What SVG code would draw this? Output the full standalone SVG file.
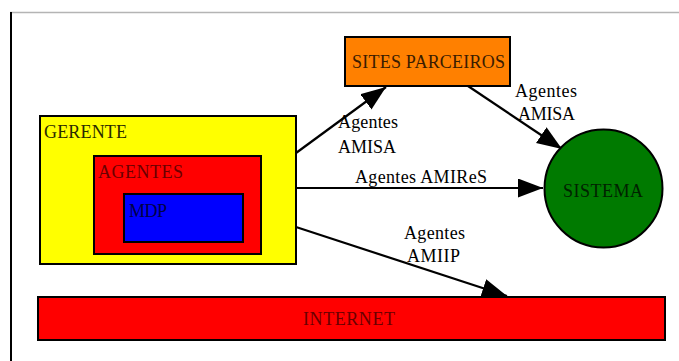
<svg xmlns="http://www.w3.org/2000/svg" width="679" height="361" viewBox="0 0 679 361">
<defs>
<marker id="arr" markerUnits="userSpaceOnUse" markerWidth="26" markerHeight="20" refX="25" refY="9.5" orient="auto" viewBox="0 0 26 20">
<path d="M0,0 L25,9.5 L0,19 z" fill="#000"/>
</marker>
<style>
text{font-family:"Liberation Serif","Times New Roman",serif;font-size:18px;fill:#000}
.box{stroke:#000;stroke-width:2}
.con{stroke:#000;stroke-width:2.2;fill:none;marker-end:url(#arr)}
</style>
</defs>
<rect width="679" height="361" fill="#fff"/>
<line x1="10" y1="12.5" x2="679" y2="12.5" stroke="#b4b4b4" stroke-width="1.5"/>
<line x1="11" y1="12" x2="11" y2="361" stroke="#000" stroke-width="2"/>

<g id="connectors">
<line class="con" x1="296" y1="153" x2="386" y2="87"/>
<line class="con" x1="296" y1="188" x2="543" y2="188"/>
<line class="con" x1="296" y1="227" x2="507" y2="296"/>
<line class="con" x1="468" y1="86" x2="562" y2="149"/>
<text x="338" y="128" textLength="60" lengthAdjust="spacing">Agentes</text>
<text x="338" y="153" textLength="58" lengthAdjust="spacing">AMISA</text>
<text x="355" y="183" textLength="132" lengthAdjust="spacing">Agentes AMIReS</text>
<text x="404" y="239" textLength="61" lengthAdjust="spacing">Agentes</text>
<text x="407" y="262" textLength="53" lengthAdjust="spacing">AMIIP</text>
<text x="515" y="97" textLength="62" lengthAdjust="spacing">Agentes</text>
<text x="518" y="120" textLength="57" lengthAdjust="spacing">AMISA</text>
</g>

<g id="gerente">
<rect class="box" x="40" y="116" width="256" height="148" fill="#ffff00"/>
<text x="44" y="138" textLength="83" lengthAdjust="spacing" style="fill:#2b2b00">GERENTE</text>
</g>
<g id="agentes">
<rect class="box" x="94" y="156" width="167" height="98" fill="#ff0000"/>
<text x="98" y="178" textLength="85" lengthAdjust="spacing" style="fill:#6a0000">AGENTES</text>
</g>
<g id="mdp">
<rect class="box" x="124" y="194" width="119" height="48" fill="#0000ff"/>
<text x="129" y="217" textLength="38" lengthAdjust="spacing" style="fill:#000046">MDP</text>
</g>
<g id="sites-parceiros">
<rect class="box" x="345" y="37" width="165" height="49" fill="#ff8000"/>
<text x="352" y="68" textLength="153" lengthAdjust="spacing" style="fill:#3a1c00">SITES PARCEIROS</text>
</g>
<g id="sistema">
<circle class="box" cx="603.5" cy="188.5" r="59" fill="#007a00"/>
<text x="563" y="197" textLength="80" lengthAdjust="spacing" style="fill:#002200">SISTEMA</text>
</g>
<g id="internet">
<rect class="box" x="38" y="297" width="627" height="43" fill="#ff0000"/>
<text x="303" y="325" textLength="92" lengthAdjust="spacing" style="fill:#6a0000">INTERNET</text>
</g>
</svg>
